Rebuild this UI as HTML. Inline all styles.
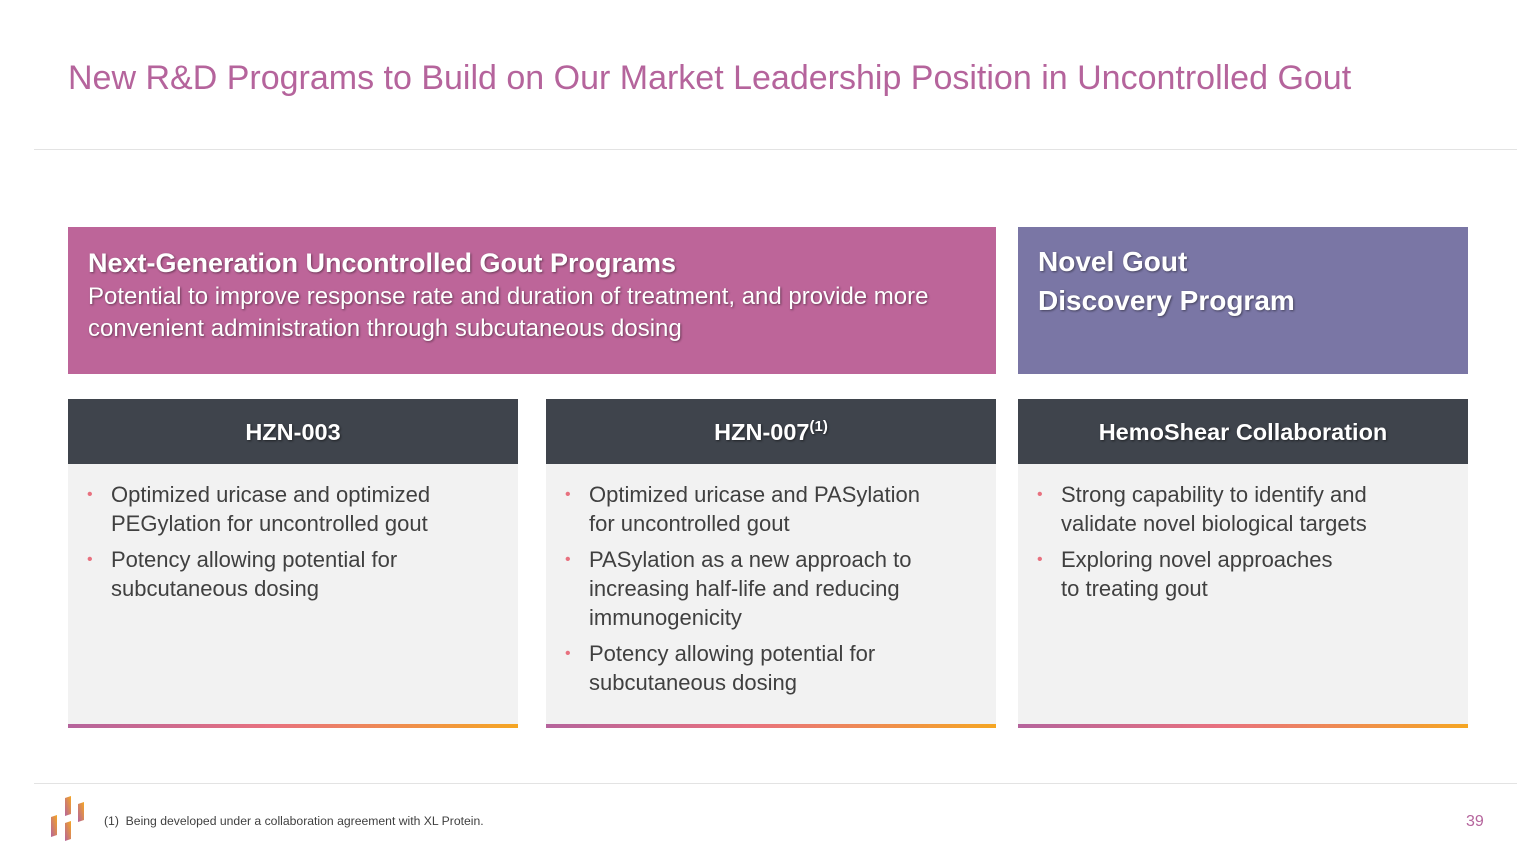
<!DOCTYPE html>
<html><head><style>
body{margin:0;width:1536px;height:864px;background:#fff;font-family:"Liberation Sans",sans-serif;position:relative;overflow:hidden}
.a{position:absolute}
.title{left:68px;top:59px;font-size:34px;color:#b5649c;white-space:nowrap}
.hr{left:34px;width:1483px;height:1px;background:#e3e3e3}
.box{color:#fff;text-shadow:1px 1px 2px rgba(0,0,0,.45);white-space:nowrap}
.hd{background:#3f444c;color:#fff;font-weight:bold;font-size:23.5px;text-align:center;line-height:67px;height:65px;text-shadow:1px 1px 2px rgba(0,0,0,.5)}
.bd{background:#f2f2f2;height:260px}
.bar{height:4px;background:linear-gradient(90deg,#b5649c,#e8717f 45%,#f5a623)}
ul{margin:0;padding:16px 0 0 43px;list-style:none}
li{position:relative;font-size:22px;line-height:29px;color:#404040;margin-bottom:7px;white-space:nowrap}
li:before{content:"•";color:#e8717f;position:absolute;left:-24px;font-size:16px}
</style></head><body>
<div class="a title">New R&amp;D Programs to Build on Our Market Leadership Position in Uncontrolled Gout</div>
<div class="a hr" style="top:149px"></div>
<div class="a box" style="left:68px;top:227px;width:928px;height:147px;background:#bd6599">
 <div style="padding:18px 20px 0 20px">
 <div style="font-size:27px;font-weight:bold;line-height:36px">Next-Generation Uncontrolled Gout Programs</div>
 <div style="font-size:24px;line-height:32px">Potential to improve response rate and duration of treatment, and provide more<br>convenient administration through subcutaneous dosing</div>
 </div></div>
<div class="a box" style="left:1018px;top:227px;width:450px;height:147px;background:#7a76a5">
 <div style="padding:15px 20px 0 20px;font-size:28px;font-weight:bold;line-height:39px">Novel Gout<br>Discovery Program</div></div>

<div class="a" style="left:68px;top:399px;width:450px">
 <div class="hd">HZN-003</div>
 <div class="bd"><ul><li>Optimized uricase and optimized<br>PEGylation for uncontrolled gout</li><li>Potency allowing potential for<br>subcutaneous dosing</li></ul></div>
 <div class="bar"></div></div>
<div class="a" style="left:546px;top:399px;width:450px">
 <div class="hd">HZN-007<sup style="font-size:15px;line-height:0">(1)</sup></div>
 <div class="bd"><ul><li>Optimized uricase and PASylation<br>for uncontrolled gout</li><li>PASylation as a new approach to<br>increasing half-life and reducing<br>immunogenicity</li><li>Potency allowing potential for<br>subcutaneous dosing</li></ul></div>
 <div class="bar"></div></div>
<div class="a" style="left:1018px;top:399px;width:450px">
 <div class="hd">HemoShear Collaboration</div>
 <div class="bd"><ul><li>Strong capability to identify and<br>validate novel biological targets</li><li>Exploring novel approaches<br>to treating gout</li></ul></div>
 <div class="bar"></div></div>

<div class="a hr" style="top:783px"></div>
<svg class="a" style="left:48px;top:795px" width="40" height="52">
<defs><linearGradient id="g" x1="0" y1="1" x2="1" y2="0"><stop offset="0" stop-color="#b5649c"/><stop offset="1" stop-color="#f5a623"/></linearGradient></defs>
<polygon points="3,22 9,20 9,40 3,42" fill="url(#g)"/>
<polygon points="17,3 23,1 23,19 17,21" fill="url(#g)"/>
<polygon points="17,28 23,26 23,44 17,46" fill="url(#g)"/>
<polygon points="30,9 36,7 36,25 30,27" fill="url(#g)"/>
</svg>
<div class="a" style="left:104px;top:814px;font-size:12.2px;color:#404040">(1)&nbsp; Being developed under a collaboration agreement with XL Protein.</div>
<div class="a" style="left:1466px;top:813px;font-size:16px;color:#b5649c">39</div>
</body></html>
